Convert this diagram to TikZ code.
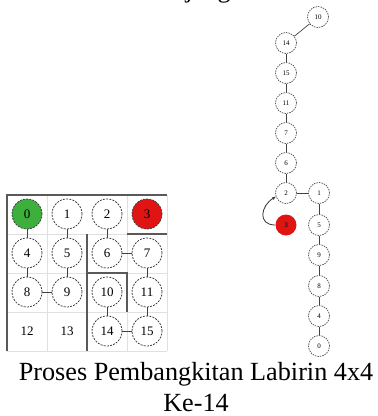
\documentclass[tikz,border=0pt]{standalone}
\usepackage{fontspec}
\setmainfont{Liberation Serif}
\usetikzlibrary{arrows.meta}
\definecolor{cgreen}{RGB}{60,175,60}
\definecolor{cred}{RGB}{225,20,20}
\begin{document}
\begin{tikzpicture}[x=1pt,y=-1pt,
  cell/.style={circle,draw=black!75,dash pattern=on 2pt off 1.2pt,line width=0.8pt,minimum size=30pt,inner sep=0pt,font=\fontsize{13}{13}\selectfont},
  tcell/.style={circle,draw=black!70,dash pattern=on 1.5pt off 1pt,line width=0.7pt,minimum size=21pt,inner sep=0pt,font=\fontsize{7}{7}\selectfont},
  plain/.style={inner sep=0pt,font=\fontsize{13}{13}\selectfont},
  link/.style={draw=black!75,line width=0.9pt},
  wall/.style={draw=black!65,line width=1.3pt},
  faint/.style={draw=black!12,line width=0.6pt},
  captext/.style={inner sep=0pt,anchor=base,font=\fontsize{26.2}{31}\selectfont}]
\useasboundingbox (0,0) rectangle (378,416);
% clipped text at top (only its lowest part shows)
\node[captext,anchor=base east] (toptext) at (231,-2.5) {Ilustrasi Hasil Akhir Lintasan Panjang};
% faint grid
\foreach \x in {47,127,167} \draw[faint] (\x,195) -- (\x,351);
\foreach \y in {234,273,312,351} \draw[faint] (7,\y) -- (167,\y);
% walls
\draw[wall] (7,351) -- (7,195) -- (167,195);
\draw[wall] (127,234) -- (167,234);
\draw[wall] (87,234) -- (87,351);
\draw[wall] (87,273) -- (127,273) -- (127,312);
% grid cells
\node[cell,fill=cgreen] (g0) at (27,214) {0};
\node[cell] (g1) at (67,214) {1};
\node[cell] (g2) at (107,214) {2};
\node[cell,fill=cred] (g3) at (147,214) {3};
\node[cell] (g4) at (27,253) {4};
\node[cell] (g5) at (67,253) {5};
\node[cell] (g6) at (107,253) {6};
\node[cell] (g7) at (147,253) {7};
\node[cell] (g8) at (27,292) {8};
\node[cell] (g9) at (67,292) {9};
\node[cell] (g10) at (107,292) {10};
\node[cell] (g11) at (147,292) {11};
\node[plain] (g12) at (27,331) {12};
\node[plain] (g13) at (67,331) {13};
\node[cell] (g14) at (107,331) {14};
\node[cell] (g15) at (147,331) {15};
\foreach \a/\b in {g0/g4,g1/g5,g5/g9,g4/g8,g8/g9,g2/g6,g6/g7,g7/g11,g10/g14,g11/g15,g14/g15}
  \draw[link] (\a) -- (\b);
% tree chain
\node[tcell] (t10) at (318,17) {10};
\node[tcell] (t14) at (286,43) {14};
\node[tcell] (t15) at (286,73) {15};
\node[tcell] (t11) at (286,103) {11};
\node[tcell] (t7) at (286,133) {7};
\node[tcell] (t6) at (286,163) {6};
\node[tcell] (t2) at (286,193) {2};
\node[tcell] (t1) at (319,193) {1};
\node[tcell,draw=none,fill=cred] (t3) at (286,225) {3};
\node[tcell] (t5) at (319,225) {5};
\node[tcell] (t9) at (319,255) {9};
\node[tcell] (t8) at (319,286) {8};
\node[tcell] (t4) at (319,316) {4};
\node[tcell] (t0) at (319,346) {0};
\foreach \a/\b in {t10/t14,t14/t15,t15/t11,t11/t7,t7/t6,t6/t2,t2/t1,t1/t5,t5/t9,t9/t8,t8/t4,t4/t0}
  \draw[link,line width=0.7pt] (\a) -- (\b);
\draw[draw=black!80,line width=0.8pt,-{Stealth[length=4pt]}] (t3.west) to[out=180,in=210,looseness=1.6] (t2.200);
% caption
\node[captext] (cap1) at (196,380) {Proses Pembangkitan Labirin 4x4};
\node[captext] (cap2) at (196,411) {Ke-14};
\end{tikzpicture}
\end{document}
